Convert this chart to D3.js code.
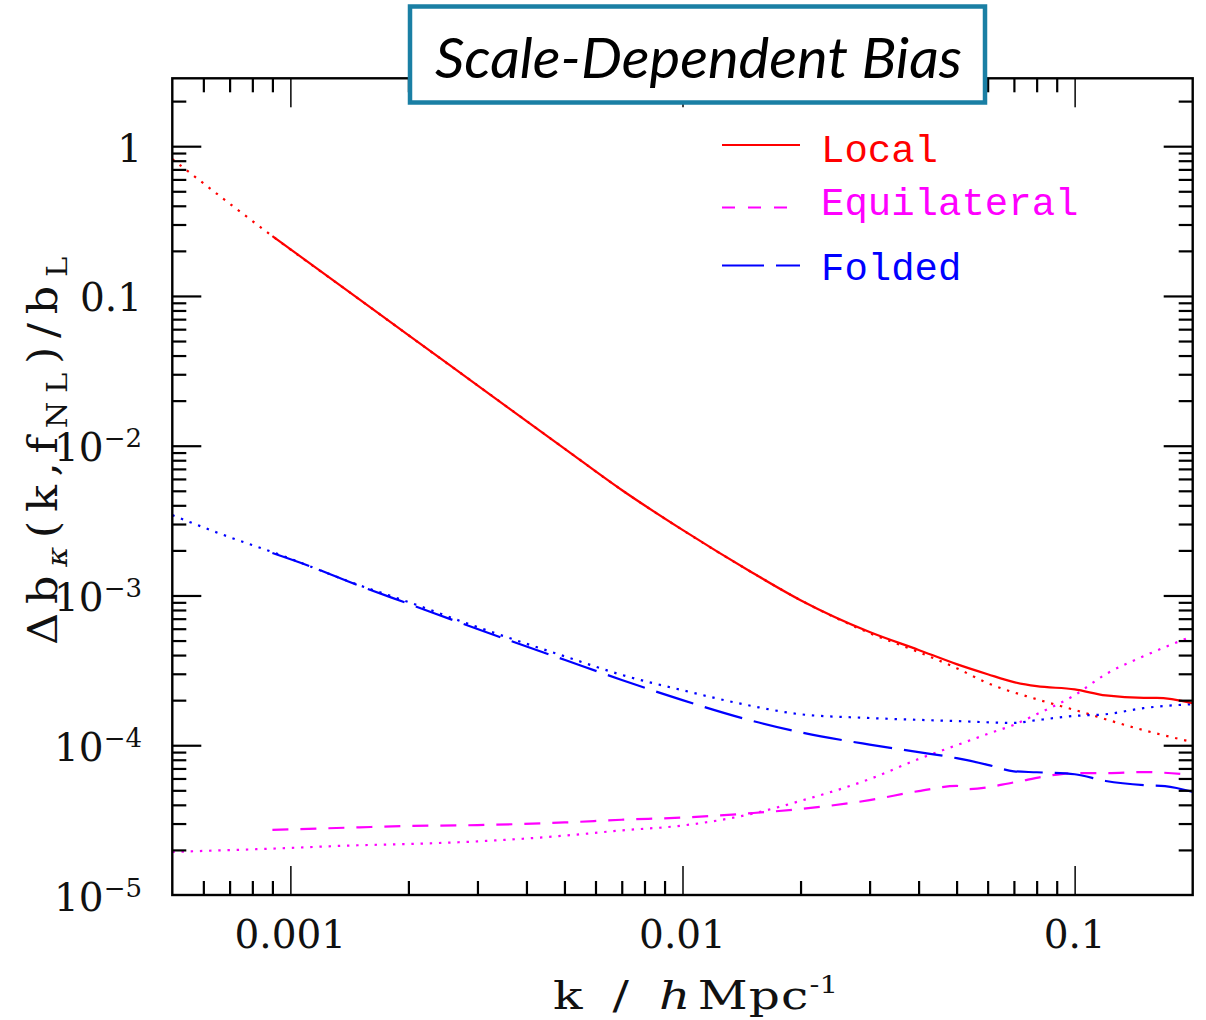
<!DOCTYPE html>
<html><head><meta charset="utf-8">
<script src="https://cdn.jsdelivr.net/npm/d3@7"></script>
<style>body{margin:0;background:#fff}</style>
</head><body>
<svg id="c" width="1206" height="1020"></svg>
<script>
// ---------- data ----------
const localK = [9e-4, 0.0015, 0.002, 0.003, 0.005, 0.007, 0.01, 0.015, 0.02, 0.03, 0.04, 0.05, 0.06, 0.07, 0.08, 0.1, 0.12, 0.15, 0.162, 0.2];
const localV = [0.251, 0.0948, 0.0547, 0.0253, 9.57e-3, 5.06e-3, 2.74e-3, 1.43e-3, 9.3e-4, 5.70e-4, 4.33e-4, 3.48e-4, 2.98e-4, 2.64e-4, 2.48e-4, 2.36e-4, 2.15e-4, 2.07e-4, 2.07e-4, 1.91e-4];

const localApproxK = [5e-4, 9e-4, 0.0015, 0.002, 0.003, 0.005, 0.007, 0.01, 0.015, 0.02, 0.03, 0.04, 0.05, 0.06, 0.08, 0.1, 0.15, 0.2];
const localApproxV = [0.82, 0.251, 0.0948, 0.0547, 0.0253, 9.57e-3, 5.06e-3, 2.74e-3, 1.43e-3, 9.3e-4, 5.61e-4, 4.19e-4, 3.27e-4, 2.60e-4, 2.03e-4, 1.72e-4, 1.26e-4, 1.05e-4];

const equilK = [9e-4, 0.0015, 0.002, 0.003, 0.005, 0.007, 0.01, 0.015, 0.02, 0.03, 0.04, 0.05, 0.054, 0.07, 0.085, 0.1, 0.12, 0.15, 0.2];
const equilV = [2.72e-5, 2.83e-5, 2.89e-5, 2.93e-5, 3.05e-5, 3.18e-5, 3.29e-5, 3.52e-5, 3.75e-5, 4.30e-5, 4.94e-5, 5.35e-5, 5.10e-5, 5.65e-5, 6.23e-5, 6.52e-5, 6.52e-5, 6.62e-5, 6.33e-5];

const equilApproxK = [5e-4, 9e-4, 0.0015, 0.002, 0.003, 0.005, 0.007, 0.01, 0.015, 0.02, 0.03, 0.04, 0.05, 0.06, 0.07, 0.08, 0.1, 0.12, 0.15, 0.2];
const equilApproxV = [1.94e-5, 2.04e-5, 2.15e-5, 2.19e-5, 2.28e-5, 2.49e-5, 2.70e-5, 2.91e-5, 3.48e-5, 4.25e-5, 5.94e-5, 8.09e-5, 1.00e-4, 1.19e-4, 1.37e-4, 1.61e-4, 2.16e-4, 2.98e-4, 3.93e-4, 5.36e-4];

const foldedK = [9e-4, 0.00112, 0.0015, 0.002, 0.003, 0.005, 0.007, 0.01, 0.015, 0.02, 0.03, 0.04, 0.05, 0.06, 0.07, 0.08, 0.1, 0.12, 0.15, 0.17, 0.2];
const foldedV = [1.92e-3, 1.57e-3, 1.16e-3, 8.81e-4, 5.97e-4, 3.72e-4, 2.73e-4, 2.00e-4, 1.46e-4, 1.22e-4, 1.01e-4, 9.0e-5, 8.2e-5, 7.4e-5, 6.7e-5, 6.6e-5, 6.4e-5, 5.77e-5, 5.42e-5, 5.34e-5, 4.88e-5];

const foldedApproxK = [5e-4, 7e-4, 9e-4, 0.0015, 0.002, 0.003, 0.005, 0.007, 0.01, 0.015, 0.02, 0.03, 0.05, 0.07, 0.08, 0.1, 0.12, 0.15, 0.2];
const foldedApproxV = [3.44e-3, 2.45e-3, 1.95e-3, 1.17e-3, 9.04e-4, 6.15e-4, 3.93e-4, 2.95e-4, 2.33e-4, 1.83e-4, 1.61e-4, 1.52e-4, 1.45e-4, 1.41e-4, 1.47e-4, 1.57e-4, 1.61e-4, 1.77e-4, 1.88e-4];

const legendNames = ["Local", "Equilateral", "Folded"];
const xTickValues = [0.001, 0.01, 0.1];
const xTickLabels = ["0.001", "0.01", "0.1"];
const yTickValues = [1, 0.1, 1e-2, 1e-3, 1e-4, 1e-5];
const yTickMain = ["1", "0.1", "10", "10", "10", "10"];
const yTickExp = ["", "", "\u22122", "\u22123", "\u22124", "\u22125"];
const titleText = "Scale-Dependent Bias";

// ---------- drawing ----------
const svg = d3.select("#c");
const X0 = 172.3, X1 = 1192.7, Y0 = 895, Y1 = 78.3;
const x = d3.scaleLog().domain([5e-4, 0.2]).range([X0, X1]);
const y = d3.scaleLog().domain([1e-5, 2.84]).range([Y0, Y1]);

svg.append("rect").attr("width", 1206).attr("height", 1020).attr("fill", "#fff");

svg.append("defs").append("clipPath").attr("id", "clip")
  .append("rect").attr("x", X0).attr("y", Y1).attr("width", X1 - X0).attr("height", Y0 - Y1);

const zip = (a, b) => a.map((k, i) => [k, b[i]]);
const line = d3.line().x(d => x(d[0])).y(d => y(d[1])).curve(d3.curveMonotoneX);

const DOT = "2.4 6.8", EQ = "16 12", FO = "39 12";
const series = [
  {d: zip(localApproxK, localApproxV), c: "#ff0000", dash: DOT},
  {d: zip(equilApproxK, equilApproxV), c: "#ff00ff", dash: DOT},
  {d: zip(foldedApproxK, foldedApproxV), c: "#0000ff", dash: DOT},
  {d: zip(equilK, equilV), c: "#ff00ff", dash: EQ},
  {d: zip(foldedK, foldedV), c: "#0000ff", dash: FO},
  {d: zip(localK, localV), c: "#ff0000", dash: null}
];
const plot = svg.append("g").attr("clip-path", "url(#clip)");
series.forEach(s => {
  plot.append("path").attr("d", line(s.d)).attr("fill", "none")
    .attr("stroke", s.c).attr("stroke-width", 2.2)
    .attr("stroke-dasharray", s.dash);
});

// ticks
const isMajor = t => Math.abs(Math.log10(t) - Math.round(Math.log10(t))) < 1e-6;
const inside = (t, dom) => t > dom[0] * 1.0001 && t < dom[1] * 0.9999;
const xMinor = x.ticks().filter(t => !isMajor(t) && inside(t, x.domain()));
const yMinor = y.ticks().filter(t => !isMajor(t) && inside(t, y.domain()));
const yMajor = yTickValues.filter(t => inside(t, y.domain()));

function addAxis(axis, tx, ty, major) {
  const g = svg.append("g").attr("transform", `translate(${tx},${ty})`).call(axis);
  g.select(".domain").remove();
  g.selectAll(".tick line").attr("stroke", major ? "#222" : "#000").attr("stroke-width", major ? 1.7 : 2.2);
  g.selectAll("text").remove();
}
addAxis(d3.axisBottom(x).tickValues(xMinor).tickSize(-14).tickFormat(""), 0, Y0, false);
addAxis(d3.axisBottom(x).tickValues(xTickValues).tickSize(-29).tickFormat(""), 0, Y0, true);
addAxis(d3.axisTop(x).tickValues(xMinor).tickSize(-14).tickFormat(""), 0, Y1, false);
addAxis(d3.axisTop(x).tickValues(xTickValues).tickSize(-29).tickFormat(""), 0, Y1, true);
addAxis(d3.axisLeft(y).tickValues(yMinor).tickSize(-14).tickFormat(""), X0, 0, false);
addAxis(d3.axisLeft(y).tickValues(yMajor).tickSize(-29).tickFormat(""), X0, 0, false);
addAxis(d3.axisRight(y).tickValues(yMinor).tickSize(-14).tickFormat(""), X1, 0, false);
addAxis(d3.axisRight(y).tickValues(yMajor).tickSize(-29).tickFormat(""), X1, 0, false);

svg.append("rect").attr("x", X0).attr("y", Y1).attr("width", X1 - X0).attr("height", Y0 - Y1)
  .attr("fill", "none").attr("stroke", "#000").attr("stroke-width", 2.4);

// tick labels
const serif = "'DejaVu Serif', serif";
svg.selectAll(".xl").data(xTickValues).enter().append("text")
  .attr("x", d => x(d)).attr("y", Y0 + 53).attr("text-anchor", "middle")
  .attr("font-family", serif).attr("font-size", 39).attr("fill", "#111")
  .text((d, i) => xTickLabels[i]);

yTickValues.forEach((v, i) => {
  const t = svg.append("text").attr("x", 142).attr("y", y(v) + 15.5)
    .attr("text-anchor", "end").attr("font-family", serif).attr("font-size", 39).attr("fill", "#111");
  t.append("tspan").text(yTickMain[i]);
  if (yTickExp[i]) t.append("tspan").attr("font-size", 26).attr("dy", -14).text(yTickExp[i]);
});

// axis titles
const yt = svg.append("text").attr("transform", "translate(57,645) rotate(-90)")
  .attr("font-family", serif).attr("font-size", 41).attr("fill", "#111")
  .attr("letter-spacing", 8)
  .attr("textLength", 397).attr("lengthAdjust", "spacingAndGlyphs");
yt.append("tspan").text("\u0394b");
yt.append("tspan").attr("font-size", 28).attr("dy", 10).attr("font-style", "italic").text("\u03ba");
yt.append("tspan").attr("dy", -10).text("(k,f");
yt.append("tspan").attr("font-size", 28).attr("dy", 10).text("NL");
yt.append("tspan").attr("dy", -10).text(")/b");
yt.append("tspan").attr("font-size", 28).attr("dy", 10).text("L");

const xt = svg.append("text").attr("x", 553).attr("y", 1009)
  .attr("font-family", serif).attr("font-size", 40).attr("fill", "#111")
  .attr("letter-spacing", 6)
  .attr("textLength", 285).attr("lengthAdjust", "spacingAndGlyphs");
xt.append("tspan").text("k / ");
xt.append("tspan").attr("font-style", "italic").text("h");
xt.append("tspan").attr("letter-spacing", 1).text("Mpc");
xt.append("tspan").attr("font-size", 24).attr("dy", -16).attr("letter-spacing", 0).text("-1");

// legend
const legColors = ["#ff0000", "#ff00ff", "#0000ff"];
const legDash = [null, "13 13", "42 12"];
const legLineY = [145, 207.5, 265.5];
const legTextY = [161.5, 215, 280];
legendNames.forEach((n, i) => {
  svg.append("line").attr("x1", 722).attr("x2", 800).attr("y1", legLineY[i]).attr("y2", legLineY[i])
    .attr("stroke", legColors[i]).attr("stroke-width", 2.2).attr("stroke-dasharray", legDash[i]);
  svg.append("text").attr("x", 821).attr("y", legTextY[i])
    .attr("font-family", "'Liberation Mono', monospace").attr("font-size", 39)
    .attr("fill", legColors[i]).text(n);
});

// title box
svg.append("rect").attr("x", 410).attr("y", 6.5).attr("width", 575).attr("height", 96)
  .attr("fill", "#fff").attr("stroke", "#1a7fa4").attr("stroke-width", 4.5);
svg.append("text").attr("x", 435).attr("y", 78)
  .attr("font-family", "Lato, 'Open Sans', sans-serif").attr("font-style", "italic")
  .attr("font-size", 56).attr("fill", "#000")
  .attr("textLength", 527).attr("lengthAdjust", "spacingAndGlyphs")
  .text(titleText);
</script>
</body></html>
